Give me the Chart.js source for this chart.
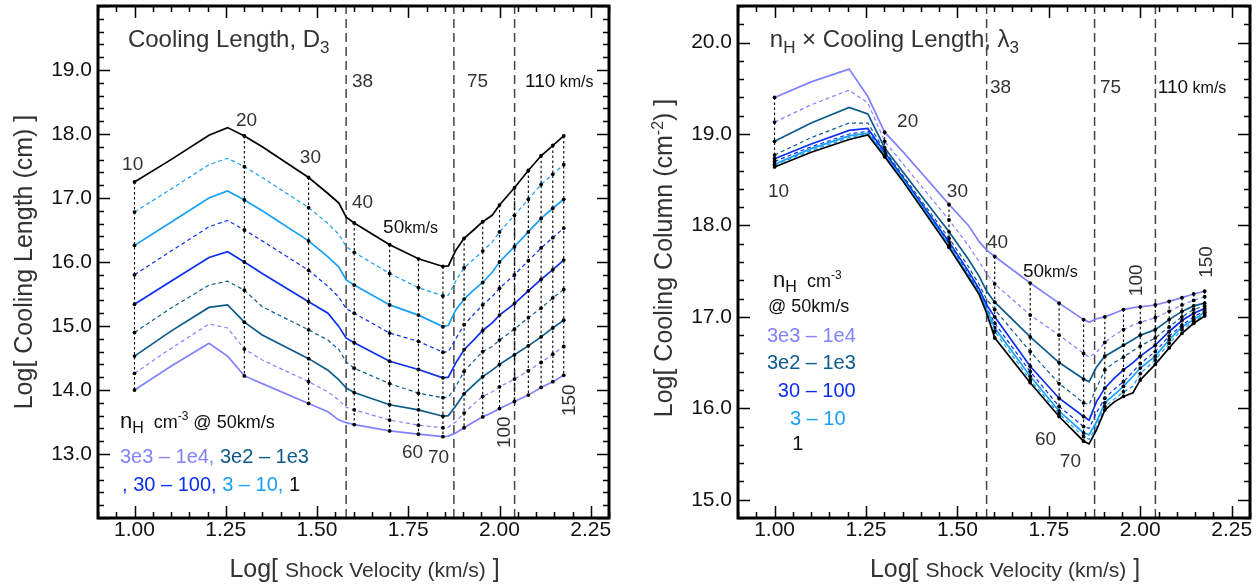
<!DOCTYPE html>
<html>
<head>
<meta charset="utf-8">
<script src="https://cdn.jsdelivr.net/npm/chart.js@4.4.0/dist/chart.umd.min.js"></script>
<style>
  html, body { margin: 0; padding: 0; background: #fff; }
  #wrap { position: relative; width: 1260px; height: 584px; }
  .panel { position: absolute; top: 0; width: 630px; height: 584px; }
</style>
</head>
<body>
<div id="wrap">
  <div class="panel" style="left:0"><canvas id="left" width="630" height="584"></canvas></div>
  <div class="panel" style="left:630px"><canvas id="right" width="630" height="584"></canvas></div>
</div>
<script>
// log10 of shock velocity (km/s) where the curves are sampled
const logV = [1.000, 1.100, 1.204, 1.255, 1.301, 1.350, 1.477, 1.530, 1.560, 1.580, 1.602, 1.699, 1.778,
  1.845, 1.860, 1.880, 1.903, 1.929, 1.954, 1.980, 2.000, 2.041, 2.079, 2.114, 2.146, 2.176];
// velocities that carry a dot and a dotted connector
const markedVelocity = [10, 20, 30, 40, 50, 60, 70, 80, 90, 100, 110, 120, 130, 140, 150];
// model boundaries (dashed lines)
const modelEdges = [38, 75, 110];
const densities = ["1", "3", "10", "30", "100", "300", "1e3", "3e3", "1e4"];

// Left: log cooling length (cm)
const lengthN1 = [17.25, 17.60, 17.98, 18.10, 17.97, 17.80, 17.32, 17.07, 16.92, 16.70, 16.61, 16.27, 16.05, 15.93, 15.94, 16.18, 16.37, 16.50, 16.63, 16.73, 16.89, 17.16, 17.43, 17.66, 17.82, 17.97];
const lengthN3 = [16.78, 17.14, 17.52, 17.62, 17.49, 17.32, 16.85, 16.60, 16.43, 16.24, 16.15, 15.82, 15.60, 15.47, 15.48, 15.70, 15.91, 16.04, 16.17, 16.31, 16.47, 16.73, 16.98, 17.21, 17.37, 17.52];
const lengthN10 = [16.26, 16.62, 17.00, 17.11, 16.97, 16.80, 16.33, 16.08, 15.92, 15.72, 15.64, 15.33, 15.17, 14.99, 15.01, 15.25, 15.42, 15.56, 15.68, 15.84, 16.00, 16.24, 16.47, 16.68, 16.84, 16.98];
const lengthN30 = [15.80, 16.17, 16.55, 16.65, 16.50, 16.33, 15.87, 15.62, 15.45, 15.27, 15.20, 14.89, 14.76, 14.59, 14.60, 14.80, 15.02, 15.18, 15.33, 15.46, 15.59, 15.80, 16.02, 16.22, 16.38, 16.53];
const lengthN100 = [15.34, 15.70, 16.07, 16.16, 16.00, 15.82, 15.38, 15.20, 14.99, 14.81, 14.74, 14.45, 14.32, 14.19, 14.20, 14.42, 14.63, 14.78, 14.93, 15.05, 15.17, 15.35, 15.55, 15.73, 15.88, 16.03];
const lengthN300 = [14.90, 15.28, 15.64, 15.70, 15.56, 15.30, 14.94, 14.78, 14.63, 14.44, 14.34, 14.10, 13.95, 13.88, 13.89, 14.05, 14.29, 14.45, 14.60, 14.68, 14.78, 14.95, 15.13, 15.28, 15.44, 15.57];
const lengthN1000 = [14.53, 14.92, 15.29, 15.33, 15.06, 14.86, 14.49, 14.31, 14.16, 14.03, 13.96, 13.77, 13.69, 13.59, 13.60, 13.75, 13.94, 14.08, 14.21, 14.31, 14.40, 14.55, 14.69, 14.83, 14.97, 15.09];
const lengthN3000 = [14.26, 14.65, 15.03, 14.97, 14.64, 14.47, 14.13, 13.97, 13.84, 13.73, 13.69, 13.53, 13.45, 13.41, 13.42, 13.50, 13.64, 13.78, 13.90, 13.97, 14.05, 14.17, 14.30, 14.43, 14.56, 14.68];
const lengthN10000 = [14.00, 14.37, 14.73, 14.53, 14.22, 14.10, 13.79, 13.66, 13.53, 13.49, 13.46, 13.36, 13.31, 13.27, 13.28, 13.33, 13.41, 13.50, 13.58, 13.65, 13.71, 13.82, 13.92, 14.04, 14.13, 14.23];

// Right: log cooling column (cm-2)
const columnN1 = [18.64, 18.80, 18.94, 18.99, 18.75, 18.49, 17.76, 17.43, 17.24, 17.04, 16.77, 16.28, 15.91, 15.64, 15.61, 15.76, 15.98, 16.07, 16.13, 16.17, 16.31, 16.48, 16.66, 16.82, 16.93, 17.01];
const columnN3 = [18.66, 18.82, 18.96, 19.00, 18.76, 18.50, 17.77, 17.44, 17.25, 17.06, 16.84, 16.31, 15.94, 15.69, 15.66, 15.80, 16.02, 16.10, 16.18, 16.24, 16.38, 16.53, 16.71, 16.86, 16.95, 17.03];
const columnN10 = [18.67, 18.84, 18.98, 19.01, 18.77, 18.51, 17.78, 17.45, 17.26, 17.08, 16.88, 16.35, 15.97, 15.73, 15.71, 15.85, 16.06, 16.15, 16.24, 16.35, 16.44, 16.57, 16.75, 16.89, 16.97, 17.05];
const columnN30 = [18.70, 18.86, 19.00, 19.03, 18.78, 18.52, 17.80, 17.47, 17.28, 17.10, 16.93, 16.40, 16.02, 15.80, 15.78, 15.95, 16.11, 16.21, 16.29, 16.40, 16.49, 16.62, 16.79, 16.91, 17.00, 17.07];
const columnN100 = [18.73, 18.89, 19.04, 19.06, 18.80, 18.53, 17.82, 17.50, 17.30, 17.13, 17.00, 16.46, 16.11, 15.91, 15.87, 16.07, 16.22, 16.33, 16.42, 16.50, 16.57, 16.69, 16.84, 16.96, 17.04, 17.09];
const columnN300 = [18.77, 18.96, 19.12, 19.12, 18.82, 18.55, 17.86, 17.55, 17.35, 17.19, 17.08, 16.62, 16.27, 16.06, 16.04, 16.22, 16.42, 16.50, 16.56, 16.63, 16.68, 16.77, 16.89, 17.00, 17.08, 17.12];
const columnN1000 = [18.92, 19.12, 19.29, 19.22, 18.85, 18.59, 17.93, 17.63, 17.44, 17.28, 17.16, 16.78, 16.50, 16.32, 16.29, 16.45, 16.57, 16.63, 16.69, 16.75, 16.80, 16.86, 16.97, 17.06, 17.12, 17.15];
const columnN3000 = [19.13, 19.32, 19.48, 19.34, 18.92, 18.68, 18.06, 17.78, 17.60, 17.47, 17.36, 17.02, 16.80, 16.60, 16.56, 16.61, 16.72, 16.80, 16.86, 16.91, 16.94, 16.99, 17.06, 17.13, 17.18, 17.22];
const columnN10000 = [19.40, 19.57, 19.71, 19.41, 19.02, 18.81, 18.23, 18.00, 17.82, 17.73, 17.66, 17.37, 17.15, 16.97, 16.94, 16.98, 17.00, 17.04, 17.08, 17.10, 17.11, 17.13, 17.17, 17.21, 17.25, 17.28];

const xMajor = [1.0, 1.25, 1.5, 1.75, 2.0, 2.25];
const leftYMajor = [13, 14, 15, 16, 17, 18, 19];
const rightYMajor = [15, 16, 17, 18, 19, 20];

const FONT = '"Liberation Sans", Arial, Helvetica, sans-serif';
const BLACK = "#000000", LBLUE = "#16A0F7", BLUE = "#0C2EF0", TEAL = "#0B5A8C", LAV = "#8282FF";
const TEXT = "#333333";
// colour and dash per density, same order as the series lists
const lineColors = [BLACK, LBLUE, LBLUE, BLUE, BLUE, TEAL, TEAL, LAV, LAV];
const lineDashed = [false, true, false, true, false, true, false, true, false];

function isMarked(x) {
  return markedVelocity.some(v => Math.abs(Math.log10(v) - x) < 0.002);
}

function buildDatasets(series, yMin, yMax) {
  const ds = [];
  series.forEach((vals, k) => {
    ds.push({
      label: densities[k],
      data: logV.map((x, i) => ({ x, y: vals[i] })),
      borderColor: lineColors[k],
      borderWidth: lineDashed[k] ? 1.2 : 1.7,
      borderDash: lineDashed[k] ? [4, 3] : [],
      pointRadius: c => (c.raw && isMarked(c.raw.x)) ? 1.9 : 0,
      pointBackgroundColor: "#000",
      pointBorderWidth: 0,
      tension: 0,
      order: 0
    });
  });
  // dotted connectors at each sampled velocity
  logV.forEach((x, i) => {
    if (!isMarked(x)) return;
    const col = series.map(s => s[i]);
    ds.push({
      data: [{ x, y: Math.max(...col) }, { x, y: Math.min(...col) }],
      borderColor: "#000", borderWidth: 1.1, borderDash: [2.5, 2.5],
      pointRadius: 0, order: 1
    });
  });
  modelEdges.forEach(v => {
    const x = Math.log10(v);
    ds.push({
      data: [{ x, y: yMin }, { x, y: yMax }],
      borderColor: "#444", borderWidth: 1.5, borderDash: [9, 5],
      pointRadius: 0, order: 2
    });
  });
  return ds;
}

function drawRuns(ctx, x, y, runs, align) {
  let total = 0;
  runs.forEach(r => { ctx.font = r[1] + "px " + FONT; total += ctx.measureText(r[0]).width; });
  let cx = align === "center" ? x - total / 2 : x;
  runs.forEach(r => {
    ctx.font = r[1] + "px " + FONT;
    ctx.fillStyle = r[3] || TEXT;
    ctx.fillText(r[0], cx, y + (r[2] || 0));
    cx += ctx.measureText(r[0]).width;
  });
}

const framePlugin = {
  id: "frame",
  afterDraw(chart, args, opts) {
    const { ctx, chartArea: a, scales: { x, y } } = chart;
    ctx.save();
    ctx.strokeStyle = "#000";
    ctx.lineWidth = 1.5;
    ctx.beginPath();
    for (let i = Math.ceil(x.min / 0.05 - 1e-6); i * 0.05 <= x.max + 1e-6; i++) {
      const v = i * 0.05;
      const px = Math.round(x.getPixelForValue(v)) + 0.5;
      const len = Math.abs(v * 4 - Math.round(v * 4)) < 1e-6 ? 12 : 6;
      ctx.moveTo(px, a.bottom); ctx.lineTo(px, a.bottom - len);
      ctx.moveTo(px, a.top); ctx.lineTo(px, a.top + len);
    }
    for (let i = Math.ceil(y.min / 0.2 - 1e-6); i * 0.2 <= y.max + 1e-6; i++) {
      const v = i * 0.2;
      const py = Math.round(y.getPixelForValue(v)) + 0.5;
      const len = Math.abs(v - Math.round(v)) < 1e-6 ? 12 : 6;
      ctx.moveTo(a.left, py); ctx.lineTo(a.left + len, py);
      ctx.moveTo(a.right, py); ctx.lineTo(a.right - len, py);
    }
    ctx.stroke();
    ctx.lineWidth = 3;
    ctx.strokeRect(a.left, a.top, a.right - a.left, a.bottom - a.top);

    // notes in data coordinates
    ctx.textBaseline = "alphabetic";
    opts.notes.forEach(n => {
      const px = x.getPixelForValue(n.x), py = y.getPixelForValue(n.y);
      if (n.rotate) {
        ctx.save();
        ctx.translate(px, py);
        ctx.rotate(-Math.PI / 2);
        ctx.textBaseline = "middle";
        drawRuns(ctx, 0, 0, n.runs, "center");
        ctx.restore();
      } else {
        drawRuns(ctx, px, py, n.runs, "left");
      }
    });

    // axis titles
    drawRuns(ctx, (a.left + a.right) / 2 + 11, 577,
      [["Log[ ", 25], ["Shock Velocity (km/s)", 21], [" ]", 25]], "center");
    ctx.save();
    ctx.translate(a.left - 66, (a.top + a.bottom) / 2 + opts.yTitleShift);
    ctx.rotate(-Math.PI / 2);
    drawRuns(ctx, 0, 0, opts.yTitle, "center");
    ctx.restore();
    ctx.restore();
  }
};

function makeChart(id, series, yMin, yMax, yMajor, yWidth, padRight, notes, yTitle, yTitleShift) {
  return new Chart(document.getElementById(id), {
    type: "line",
    data: { datasets: buildDatasets(series, yMin, yMax) },
    plugins: [framePlugin],
    options: {
      responsive: false,
      animation: false,
      events: [],
      devicePixelRatio: 1,
      layout: { padding: { left: 0, right: padRight, top: 6, bottom: 0 } },
      plugins: {
        legend: { display: false },
        tooltip: { enabled: false },
        frame: { notes, yTitle, yTitleShift }
      },
      scales: {
        x: {
          type: "linear", min: 0.9, max: 2.3,
          grid: { display: false, drawTicks: false },
          border: { display: false },
          afterBuildTicks: s => { s.ticks = xMajor.map(v => ({ value: v })); },
          ticks: { callback: v => v.toFixed(2), font: { size: 21, family: FONT }, color: "#111",
            padding: 0, maxRotation: 0, autoSkip: false },
          afterFit: s => { s.height = 66; s.paddingLeft = 0; s.paddingRight = 0; }
        },
        y: {
          type: "linear", min: yMin, max: yMax,
          grid: { display: false, drawTicks: false },
          border: { display: false },
          afterBuildTicks: s => { s.ticks = yMajor.map(v => ({ value: v })); },
          ticks: { callback: v => v.toFixed(1), font: { size: 21, family: FONT }, color: "#111",
            padding: 6, autoSkip: false },
          afterFit: s => { s.width = yWidth; s.paddingTop = 0; s.paddingBottom = 0; }
        }
      }
    }
  });
}

const leftNotes = [
  { x: 0.982, y: 19.36, runs: [["Cooling Length, D", 24], ["3", 17, 6]] },
  { x: 0.966, y: 17.44, runs: [["10", 19]] },
  { x: 1.278, y: 18.125, runs: [["20", 19]] },
  { x: 1.453, y: 17.55, runs: [["30", 19]] },
  { x: 1.596, y: 18.73, runs: [["38", 19]] },
  { x: 1.911, y: 18.73, runs: [["75", 19]] },
  { x: 2.070, y: 18.73, runs: [["110", 19, 0, "#111"], [" km/s", 16, 0, "#111"]] },
  { x: 1.596, y: 16.84, runs: [["40", 19]] },
  { x: 1.681, y: 16.45, runs: [["50", 19, 0, "#111"], ["km/s", 16, 0, "#111"]] },
  { x: 1.733, y: 12.94, runs: [["60", 19]] },
  { x: 1.804, y: 12.86, runs: [["70", 19]] },
  { x: 2.015, y: 13.34, rotate: true, runs: [["100", 19]] },
  { x: 2.193, y: 13.84, rotate: true, runs: [["150", 19]] },
  { x: 0.960, y: 13.41, runs: [["n", 22, 0, "#111"], ["H", 16, 5, "#111"], ["  cm", 18, 0, "#111"],
    ["-3", 12, -8, "#111"], [" @ 50km/s", 18, 0, "#111"]] },
  { x: 0.960, y: 12.86, runs: [["3e3 \u2013 1e4, ", 20, 0, LAV], ["3e2 \u2013 1e3", 20, 0, TEAL]] },
  { x: 0.966, y: 12.42, runs: [[", 30 \u2013 100, ", 20, 0, BLUE], ["3 \u2013 10, ", 20, 0, LBLUE], ["1", 20, 0, "#111"]] }
];

const rightNotes = [
  { x: 0.987, y: 19.95, runs: [["n", 24], ["H", 17, 6], [" \u00d7 Cooling Length, \u03bb", 24], ["3", 17, 6]] },
  { x: 1.589, y: 19.45, runs: [["38", 19]] },
  { x: 1.890, y: 19.45, runs: [["75", 19]] },
  { x: 2.048, y: 19.45, runs: [["110", 19, 0, "#111"], [" km/s", 16, 0, "#111"]] },
  { x: 0.982, y: 18.31, runs: [["10", 19]] },
  { x: 1.335, y: 19.08, runs: [["20", 19]] },
  { x: 1.471, y: 18.31, runs: [["30", 19]] },
  { x: 1.581, y: 17.75, runs: [["40", 19]] },
  { x: 1.679, y: 17.44, runs: [["50", 19, 0, "#111"], ["km/s", 16, 0, "#111"]] },
  { x: 1.712, y: 15.60, runs: [["60", 19]] },
  { x: 1.780, y: 15.36, runs: [["70", 19]] },
  { x: 1.991, y: 17.40, rotate: true, runs: [["100", 19]] },
  { x: 2.182, y: 17.60, rotate: true, runs: [["150", 19]] },
  { x: 0.996, y: 17.33, runs: [["n", 22, 0, "#111"], ["H", 16, 5, "#111"], ["  cm", 18, 0, "#111"], ["-3", 12, -8, "#111"]] },
  { x: 0.982, y: 17.05, runs: [["@ 50km/s", 18, 0, "#111"]] },
  { x: 0.979, y: 16.72, runs: [["3e3 \u2013 1e4", 20, 0, LAV]] },
  { x: 0.979, y: 16.43, runs: [["3e2 \u2013 1e3", 20, 0, TEAL]] },
  { x: 1.009, y: 16.12, runs: [["30 \u2013 100", 20, 0, BLUE]] },
  { x: 1.042, y: 15.82, runs: [["3 \u2013 10", 20, 0, LBLUE]] },
  { x: 1.048, y: 15.54, runs: [["1", 20, 0, "#111"]] }
];

makeChart("left",
  [lengthN1, lengthN3, lengthN10, lengthN30, lengthN100, lengthN300, lengthN1000, lengthN3000, lengthN10000],
  12, 20, leftYMajor, 98, 21, leftNotes,
  [["Log[ Cooling Length (cm) ]", 25]], 0);

makeChart("right",
  [columnN1, columnN3, columnN10, columnN30, columnN100, columnN300, columnN1000, columnN3000, columnN10000],
  14.8, 20.4, rightYMajor, 108, 10, rightNotes,
  [["Log[ Cooling Column (cm", 25], ["-2", 16, -9], [") ]", 25]], -4);
</script>
</body>
</html>
